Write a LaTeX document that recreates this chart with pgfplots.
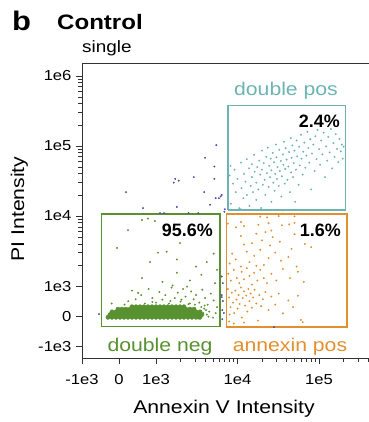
\documentclass[border=0pt]{standalone}
\usepackage{pgfplots}
\pgfplotsset{compat=1.18}
\usepackage{fontspec}
\setmainfont{Liberation Sans}[FakeStretch=1.15]
\newfontfamily\plainfont{Liberation Sans}
\definecolor{gcol}{RGB}{88,146,48}
\definecolor{tcol}{RGB}{108,180,180}
\definecolor{ocol}{RGB}{226,143,48}
\definecolor{pcol}{RGB}{82,72,170}
\definecolor{axcol}{RGB}{50,50,50}
% linear within +-1e3, logarithmic beyond (biexponential-like display)
\newcommand\bitrafo[2]{\begingroup\pgfkeys{/pgf/fpu=true,/pgf/fpu/output format=fixed}%
\pgfmathparse{max(min(#1,1000),-1000)/1000+#2*(ln(max(#1,1000)/1000)-ln(max(-(#1),1000)/1000))/2.302585}%
\xdef\bitrafores{\pgfmathresult}\endgroup\let\pgfmathresult\bitrafores}
\pgfplotsset{dots/.style={only marks, mark=*, color=#1, mark size=0.8bp, line width=0.3bp, mark options={solid, draw=#1, fill=#1}}}
\begin{document}
\begin{tikzpicture}
\useasboundingbox (0,0) rectangle (369bp,-422bp);
\begin{axis}[
  at={(82bp,-358bp)}, anchor=south west,
  scale only axis, width=287bp, height=295bp,
  x coord trafo/.code={\bitrafo{#1}{2.203}},
  y coord trafo/.code={\bitrafo{#1}{2.333}},
  xmin=-1000, xmax=410000, ymin=-1480, ymax=1535000,
  enlargelimits=false,
  axis lines*=left,
  axis line style={draw=axcol, line width=0.9bp},
  tick align=outside,
  major tick length=6bp, minor tick length=3.5bp,
  every tick/.style={axcol, line width=0.8bp},
  xtick={-1000,0,1000,10000,100000},
  xticklabels={-1e3,0,1e3,1e4,1e5},
  minor xtick={2000,3000,4000,5000,6000,7000,8000,9000,20000,30000,40000,50000,60000,70000,80000,90000,200000,300000,400000},
  ytick={-1000,0,1000,10000,100000,1000000},
  yticklabels={-1e3,0,1e3,1e4,1e5,1e6},
  minor ytick={2000,3000,4000,5000,6000,7000,8000,9000,20000,30000,40000,50000,60000,70000,80000,90000,200000,300000,400000,500000,600000,700000,800000,900000},
  tick label style={font=\fontsize{14.5}{16}\selectfont, text=black},
  xticklabel style={yshift=-7bp},
  yticklabel style={xshift=-1bp},
  /pgf/number format/assume math mode=true,
  clip=false,
]
\draw[axcol, line width=0.9bp] (rel axis cs:0,1) -- (rel axis cs:1,1);
% gates
\addplot[gcol, line width=1.3bp] coordinates {(-468,-357) (6100,-357) (6100,10700) (-468,10700) (-468,-357)};
\addplot[ocol, line width=1.3bp] coordinates {(7290,-367) (220000,-367) (220000,10700) (7290,10700) (7290,-367)};
\addplot[tcol, line width=1.3bp] coordinates {(7640,12200) (212000,12200) (212000,377000) (7640,377000) (7640,12200)};
% double negative dense core
\addplot[dots=gcol, mark size=2.2bp] coordinates {
(-297,-40) (-189,-40) (-81,-40) (27,-40) (135,-40) (243,-40) (351,-40) (459,-40) (568,-40) (676,-40) (784,-40) (892,-40) (1000,-40) (1120,-40) (1250,-40) (1400,-40) (1570,-40) (1760,-40) (1970,-40) (2200,-40) (2470,-40) (2760,-40) (3100,-40) (3460,-40)
(-243,50) (-135,50) (-27,50) (81,50) (189,50) (297,50) (405,50) (514,50) (622,50) (730,50) (838,50) (946,50) (1060,50) (1185,50) (1325,50) (1480,50) (1655,50) (1860,50) (2080,50) (2330,50) (2610,50) (2920,50) (3270,50) (3650,50)
(-189,140) (-81,140) (27,140) (135,140) (243,140) (351,140) (459,140) (568,140) (676,140) (784,140) (892,140) (1000,140) (1120,140) (1250,140) (1400,140) (1570,140) (1760,140) (1970,140) (2200,140) (2470,140) (2760,140) (3100,140) (3460,140)
(-27,230) (81,230) (189,230) (297,230) (405,230) (514,230) (622,230) (730,230) (838,230) (946,230) (1060,230) (1185,230) (1325,230) (1480,230) (1655,230) (1860,230) (2080,230) (2330,230) (2610,230) (2920,230)
(351,310) (459,310) (568,310) (676,310) (784,310) (892,310) (1000,310) (1120,310) (1250,310) (1400,310) (1570,310) (1760,310) (1970,310) (2200,310)
};
% double negative scattered
\addplot[dots=gcol] coordinates {
(620,8800) (780,9200) (970,8500) (243,6300) (-54,3500) (1060,3000) (1350,3100) (1970,4100) (5100,2900) (840,2200) (1800,2400) (620,1300) (1800,1550) (3600,1450) (514,770) (4600,6600) (2200,5600) (3100,1900) (4200,2200) (5600,1700) (2600,1200) (1200,1150) (5300,1100)
(350,850) (450,560) (600,700) (700,420) (800,900) (900,600) (1000,450) (1100,800) (1200,550) (1300,700) (1450,420) (1550,950) (1700,600) (1850,780) (2000,480) (2150,900) (2300,650) (2500,400) (2700,820) (2900,560) (3100,700) (3400,450) (3700,880) (4000,600) (4300,380) (4700,750) (5100,520) (5600,300) (3900,250) (4500,150) (5000,-50) (5400,100) (3300,-80) (2400,980) (1600,1020) (250,500) (150,380) (-200,420)
(3800,100) (4200,50) (4100,200) (3600,300) (4400,-20) (3950,350) (2600,420) (3000,380) (1500,500) (900,470) (2050,550)
};
% annexin positive
\addplot[dots=ocol] coordinates {
(7600,7800) (9600,6900) (11000,8200) (12000,7200) (18000,7500) (24000,7900) (35000,7400) (43000,7600) (50000,8000) (19000,9800) (23000,9600) (32000,10000) (50000,9900) (26000,6200)
(11000,5200) (15000,4100) (17000,5600) (20000,4500) (25000,3800) (27000,5000) (33000,4300) (50000,5500) (67000,4000) (80000,3600) (12000,3900) (22000,5900)
(8000,2100) (8600,2900) (9500,2400) (13000,3100) (14000,2200) (16000,2700) (19000,3300) (21000,2000) (24000,2500) (29000,3000) (34000,2300) (42000,2600) (53000,1900) (46000,3400) (11000,1900) (17000,1950)
(7700,1500) (8300,1200) (9000,1700) (9800,1300) (10500,1100) (11200,1600) (12000,1250) (13000,1800) (14000,1400) (15000,1050) (16000,1550) (17500,1200) (19000,1700) (21000,1300) (23000,1100) (26000,1500) (30000,1200) (36000,1750) (44000,1300) (55000,1600) (65000,1150)
(7600,900) (7900,620) (8200,300) (8500,780) (8800,450) (9100,100) (9400,850) (9700,550) (10000,250) (10300,700) (10600,400) (11000,950) (11300,-50) (11600,600) (12000,820) (12400,350) (12800,680) (13200,150) (13600,900) (14000,500) (14500,750) (15000,280) (15500,620) (16200,880) (17000,420) (17800,-150) (18500,700) (19500,330) (20500,560) (22000,800) (24000,200) (26000,650) (29000,380) (32000,750) (36000,90) (42000,520) (48000,300) (55000,680) (63000,-200) (7900,-180) (9000,-250) (12000,-220) (8000,50) (60000,-130)
};
% double positive
\addplot[dots=tcol] coordinates {
(8300,15000) (8800,29000) (9200,46000) (9500,22000) (10000,34000) (10500,13000) (11000,58000) (11200,25000) (11800,18000) (12000,40000) (12500,31000) (13000,65000) (13000,20000) (13800,48000) (14000,14000) (14500,27000) (15000,36000) (15000,55000) (15500,22000) (16000,75000) (16200,43000) (17000,17000) (17000,30000) (17500,50000) (18000,24000) (18500,62000) (19000,39000) (19500,13000) (20000,46000) (20000,86000) (20500,28000) (21000,57000) (21500,33000) (22000,20000) (22500,70000) (23000,41000) (23500,95000) (24000,26000) (24500,52000) (25000,36000) (25500,66000) (26000,16000) (26000,45000) (27000,80000) (27500,30000) (28000,59000) (28500,23000) (29000,40000) (29500,105000) (30000,69000) (30500,34000) (31000,50000) (32000,27000) (32500,88000) (33000,44000) (34000,61000) (34500,19000) (35000,37000) (36000,76000) (36500,54000) (37000,115000) (38000,29000) (38500,47000) (39000,93000) (40000,64000) (41000,33000) (42000,51000) (43000,82000) (44000,22000) (45000,130000) (45500,42000) (46000,68000) (47000,102000) (48000,36000) (49000,57000) (50000,86000) (51000,16000) (52000,46000) (53000,120000) (54000,71000) (56000,28000) (57000,98000) (58000,53000) (60000,145000) (61000,66000) (63000,39000) (64000,83000) (66000,112000) (68000,49000) (70000,73000) (72000,160000) (74000,94000) (76000,58000) (78000,125000) (80000,24000) (82000,78000) (85000,105000) (88000,44000) (90000,138000) (93000,65000) (96000,170000) (100000,90000) (103000,54000) (106000,120000) (110000,76000) (114000,155000) (118000,36000) (122000,99000) (126000,62000) (130000,135000) (135000,81000) (140000,175000) (145000,48000) (150000,110000) (155000,70000) (160000,148000) (166000,91000) (172000,59000) (178000,126000) (185000,84000) (190000,105000) (195000,66000) (200000,98000)
(29000,12200) (36000,12000) (11000,12500) (8000,38000) (8200,52000)
};
% outside gates
\addplot[dots=pcol] coordinates {
(5500,103000) (4000,68000) (5200,51000) (1720,34000) (1650,30000) (1900,32000) (2900,36000) (5200,34000) (189,22000) (3900,22000) (6400,20000) (5400,18000) (5900,18000) (4600,14500) (650,13000) (1800,13500) (1120,11000) (1250,11000) (2500,11000) (3300,11000) (6200,19000) (-540,67) (6600,1100) (6600,500) (6800,100) (6400,1370) (6400,630) (6500,200) (6500,-100) (6900,11500) (28000,-370) (6400,700) (7000,12500)
};
\end{axis}
% titles
\node[anchor=base west, inner sep=0, font=\bfseries\fontsize{27}{30}\selectfont] at (12bp,-30bp) {b};
\node[anchor=base west, inner sep=0, font=\bfseries\fontsize{21}{24}\selectfont] at (57bp,-29bp) {Control};
\node[anchor=base west, inner sep=0, font=\fontsize{16.5}{19}\selectfont] at (82bp,-52bp) {single};
% gate labels
\node[anchor=base, inner sep=0, text=tcol, font=\fontsize{18.5}{21}\selectfont] at (286bp,-95bp) {double pos};
\node[anchor=base, inner sep=0, text=gcol, font=\fontsize{18.5}{21}\selectfont] at (160bp,-351bp) {double neg};
\node[anchor=base, inner sep=0, text=ocol, font=\fontsize{18.5}{21}\selectfont] at (290bp,-351bp) {annexin pos};
\node[anchor=base east, inner sep=0, font=\plainfont\bfseries\fontsize{18}{20}\selectfont] at (340bp,-127bp) {2.4\%};
\node[anchor=base east, inner sep=0, font=\plainfont\bfseries\fontsize{18}{20}\selectfont] at (213bp,-236bp) {95.6\%};
\node[anchor=base east, inner sep=0, font=\plainfont\bfseries\fontsize{18}{20}\selectfont] at (341bp,-236bp) {1.6\%};
% axis labels
\node[anchor=base, inner sep=0, font=\fontsize{18.5}{21}\selectfont] at (224bp,-413bp) {Annexin V Intensity};
\node[anchor=base, inner sep=0, rotate=90, font=\fontsize{18.5}{21}\selectfont] at (24bp,-209bp) {PI Intensity};
\end{tikzpicture}
\end{document}
